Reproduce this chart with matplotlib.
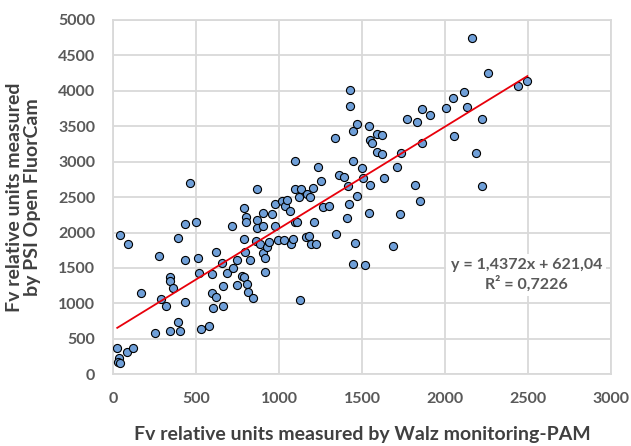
import matplotlib
matplotlib.use("Agg")
import matplotlib.pyplot as plt
import numpy as np

# Fv readings: Walz monitoring-PAM (x) vs PSI Open FluorCam (y)
walz = [
    24, 36, 30, 40, 81, 117, 40, 87, 165,
    253, 273, 287, 316, 342, 342, 342, 361, 388, 392, 402, 432, 434, 434, 463, 496,
    512, 516, 526, 577, 593, 593, 599, 617, 619, 653, 659, 663, 687, 715, 723, 743,
    743, 773, 785, 786, 787, 793, 801, 799, 808, 813,
    823, 843, 860, 864, 867, 867, 884, 902, 900, 904, 914, 914, 924, 940, 958, 974,
    975, 990, 1018, 1030, 1034, 1048, 1064, 1069, 1084, 1095, 1108, 1095, 1133, 1118,
    1167, 1187, 1203, 1095,
    1127, 1161, 1177, 1191, 1219, 1211, 1235, 1255, 1263, 1300, 1336, 1343, 1360, 1390,
    1410, 1416, 1420, 1424, 1424, 1442, 1444, 1446, 1456, 1470, 1470, 1502, 1506, 1518,
    1542, 1546, 1560, 1587, 1617, 1592, 1617, 1542, 1546, 1631, 1687, 1711, 1727, 1737,
    1773, 1819, 1831, 1848, 1858, 1861, 1912, 2004, 2046, 2054, 2114, 2135, 2164, 2189,
    2223, 2225, 2259, 2440, 2496,
]
fluorcam = [
    367, 226, 178, 164, 310, 367, 1962, 1838, 1150,
    578, 1674, 1058, 968, 616, 1378, 1321, 1213, 734, 1919, 611, 1617, 2116, 1025, 2695, 2145,
    1641, 1429, 635, 686, 1415, 1143, 931, 1095, 1726, 1566, 1246, 968, 1434, 2097, 1496, 1617,
    1260, 1387, 1370, 2351, 1909, 1730, 2215, 2150, 1280, 1160,
    1610, 1072, 1885, 2610, 2177, 2060, 1839, 2273, 1707, 2093, 1636, 1439, 1801, 1871, 2262, 2093,
    2405, 1895, 2440, 1895, 2380, 2455, 2304, 1834, 1905, 2153, 2153, 2610, 2620, 2500,
    2550, 2500, 2624, 3010,
    1044, 1942, 1950, 1839, 1836, 2145, 2930, 2727, 2365, 2377, 3339, 1975, 2812, 2788,
    2201, 2661, 2410, 4012, 3781, 3437, 3010, 1556, 1848, 3528, 2518, 2916, 2766, 1547,
    3504, 3306, 3259, 3391, 3377, 3141, 3109, 2271, 2671, 2774, 1810, 2921, 2262, 3118,
    3598, 2667, 3556, 2450, 3744, 3259, 3663, 3758, 3903, 3367, 3979, 3776, 4750, 3127,
    2657, 3602, 4247, 4072, 4138,
]

# linear trendline as reported on the chart
slope = 1.4372
intercept = 621.04
r_squared = 0.7226

x_ticks = [0, 500, 1000, 1500, 2000, 2500, 3000]
y_ticks = [0, 500, 1000, 1500, 2000, 2500, 3000, 3500, 4000, 4500, 5000]

text_color = "#595959"
grid_color = "#d9d9d9"

plt.rcParams["font.family"] = ["Lato", "DejaVu Sans"]
plt.rcParams["font.weight"] = "bold"

fig = plt.figure(figsize=(6.31, 4.46), dpi=100)
ax = fig.add_axes([0.1795, 0.1608, 0.7888, 0.7944])

ax.scatter(walz, fluorcam, s=34, c="#6f9fd8", edgecolors="black",
           linewidths=0.8, zorder=3)

# trendline over the measured range
xs = np.array([min(walz), max(walz)])
ax.plot(xs, slope * xs + intercept, color="#e8000b", lw=1.3, zorder=4)

eq = f"y = {slope:.4f}x + {intercept:.2f}\nR² = {r_squared:.4f}".replace(".", ",")
ax.text(2490, 1400, eq, ha="center", va="center", fontsize=11.5,
        fontweight="bold", color=text_color, linespacing=1.25, zorder=5,
        bbox=dict(facecolor="white", edgecolor="none", pad=3))

ax.set_xlim(0, 3000)
ax.set_ylim(0, 5000)
ax.set_xticks(x_ticks)
ax.set_yticks(y_ticks)
ax.tick_params(length=0, labelsize=11.5, labelcolor=text_color, pad=13)
for lbl in ax.get_xticklabels() + ax.get_yticklabels():
    lbl.set_fontweight("bold")

ax.grid(True, color=grid_color, lw=1.3, zorder=0)
ax.set_axisbelow(True)
for sp in ax.spines.values():
    sp.set_color(grid_color)
    sp.set_linewidth(1.3)

ax.set_xlabel("Fv relative units measured by Walz monitoring-PAM",
              fontsize=14, fontweight="bold", color="#404040", labelpad=14)
ax.set_ylabel("Fv relative units measured\nby PSI Open FluorCam",
              fontsize=14, fontweight="bold", color="#404040", labelpad=12,
              linespacing=1.1)

fig.savefig("out.png", dpi=100)
